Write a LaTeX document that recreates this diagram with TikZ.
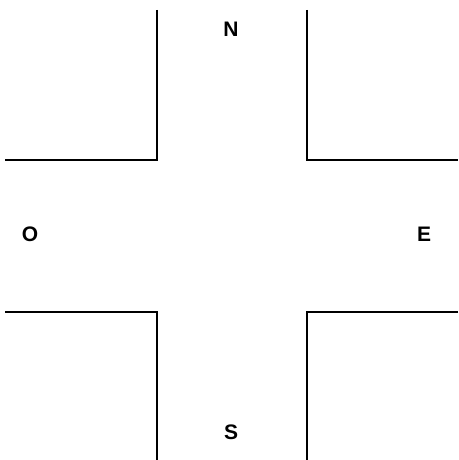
\documentclass[tikz,border=0pt]{standalone}
\usepackage{fontspec}
\setmainfont{Liberation Sans}
\usetikzlibrary{positioning}

\begin{document}
\begin{tikzpicture}[x=1pt,y=1pt,kerb/.style={line width=1.8pt},dir/.style={font=\bfseries\fontsize{21}{21}\selectfont}]
  \useasboundingbox (0,0) rectangle (458,460);
  \draw[kerb] (157,450) -- (157,300) -- (5,300);
  \draw[kerb] (307,450) -- (307,300) -- (458,300);
  \draw[kerb] (5,148) -- (157,148) -- (157,0);
  \draw[kerb] (458,148) -- (307,148) -- (307,0);
  \node[dir] (north) at (231,431) {N};
  \node[dir] (west) at (30,226) {O};
  \node[dir] (east) at (424,226) {E};
  \node[dir] (south) at (231,28) {S};
\end{tikzpicture}
\end{document}
